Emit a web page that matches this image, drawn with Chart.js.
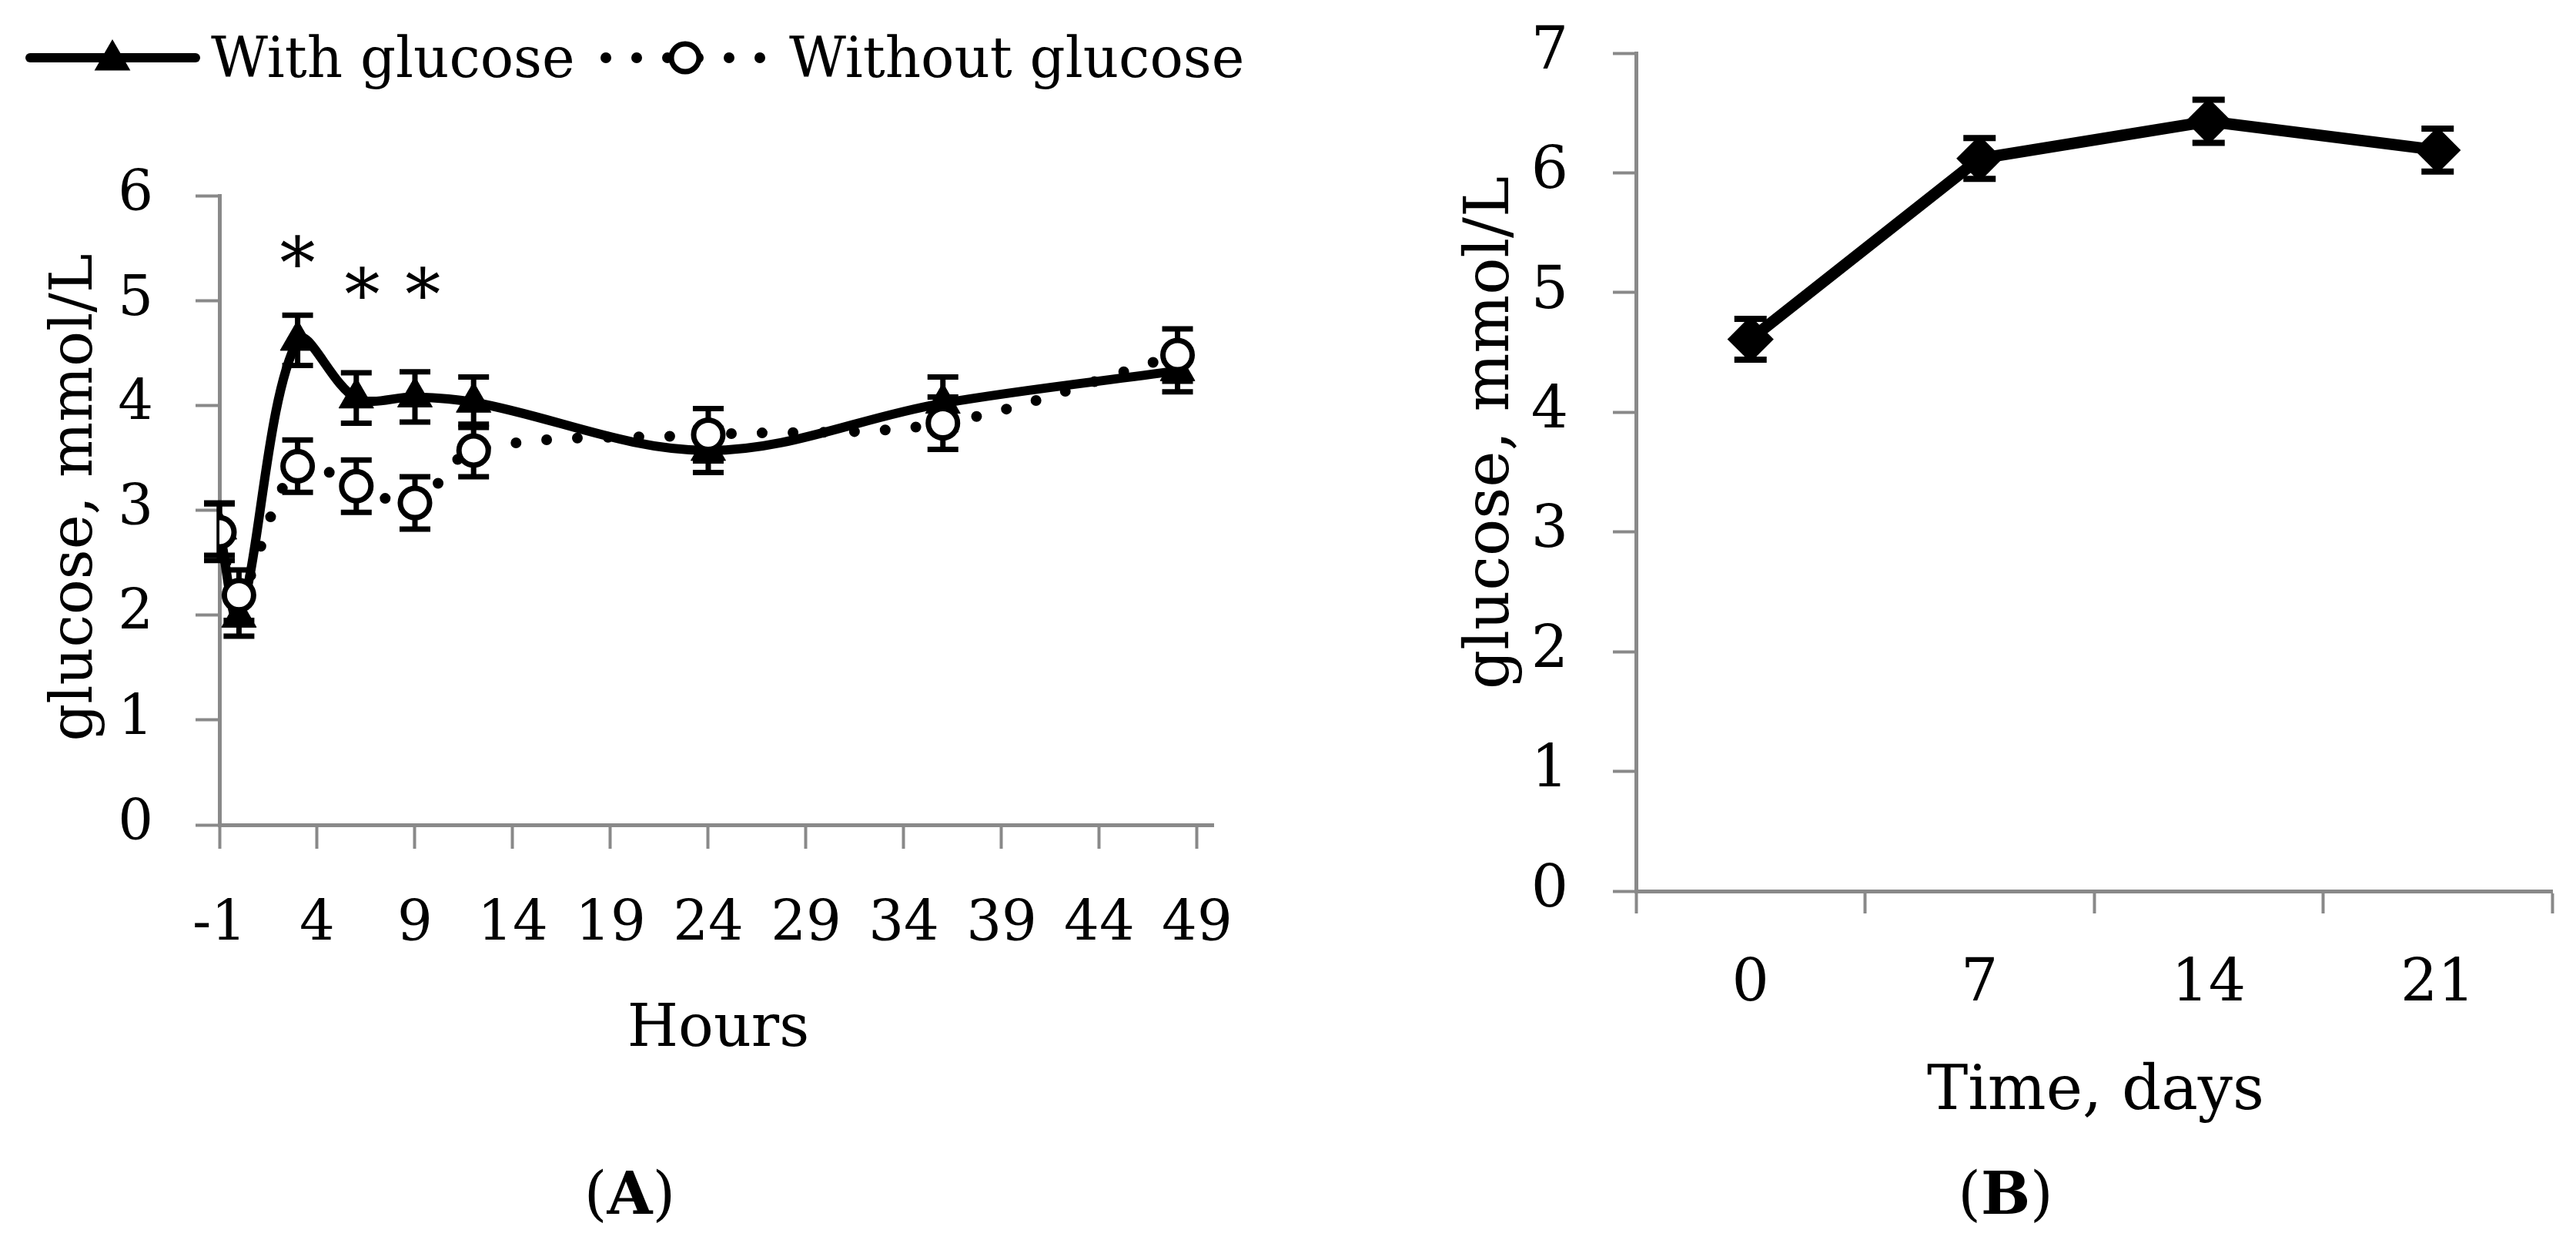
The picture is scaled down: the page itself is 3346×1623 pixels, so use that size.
<!DOCTYPE html>
<html>
<head>
<meta charset="utf-8">
<script src="https://cdn.jsdelivr.net/npm/chart.js@4.4.1/dist/chart.umd.min.js"></script>
<style>
  html, body { margin: 0; padding: 0; background: #fff; }
  #wrap { position: relative; width: 3346px; height: 1623px; overflow: hidden; }
  #chartA { position: absolute; left: 0; top: 0; }
  #chartB { position: absolute; left: 1700px; top: 0; }
</style>
</head>
<body>
<div id="wrap">
  <canvas id="chartA" width="1700" height="1623"></canvas>
  <canvas id="chartB" width="1646" height="1623"></canvas>
</div>
<script>
/* ------------------------------------------------------------
   DATA - panel A (hours)
   ------------------------------------------------------------ */
const hours = [-1, 0, 3, 6, 9, 12, 24, 36, 48];
const withGlucose = [2.82, 1.98, 4.62, 4.07, 4.08, 4.03, 3.57, 4.02, 4.33];
const withErr = [0.25, 0.18, 0.24, 0.24, 0.24, 0.24, 0.21, 0.25, 0.20];
const withoutGlucose = [2.79, 2.19, 3.42, 3.23, 3.07, 3.57, 3.72, 3.83, 4.48];
const withoutErr = [0.27, 0.24, 0.25, 0.25, 0.25, 0.25, 0.25, 0.25, 0.25];
const hourTicks = [-1, 4, 9, 14, 19, 24, 29, 34, 39, 44, 49];
// significance marks (*)
const starHours = [3, 6.3, 9.4];
const starLevels = [5.5, 5.2, 5.2];

/* ------------------------------------------------------------
   DATA - panel B (days)
   ------------------------------------------------------------ */
const days = ['0', '7', '14', '21'];
const glucoseB = [4.61, 6.12, 6.43, 6.19];
const errB = [0.17, 0.17, 0.18, 0.18];

const GRAY = '#898989';
const FONT = '"DejaVu Serif", serif';
Chart.defaults.font.family = FONT;
Chart.defaults.color = '#000';

// error bars drawn under the markers, through the y scale
const errorBars = {
  id: 'errorBars',
  beforeDatasetsDraw(chart) {
    const ctx = chart.ctx;
    const yScale = chart.scales.y;
    chart.data.datasets.forEach((ds, i) => {
      if (!ds.errors) return;
      const meta = chart.getDatasetMeta(i);
      ctx.save();
      ctx.strokeStyle = '#000';
      ctx.lineWidth = ds.errWidth;
      meta.data.forEach((pt, j) => {
        const raw = ds.data[j];
        const v = (raw && raw.y !== undefined) ? raw.y : raw;
        const top = yScale.getPixelForValue(v + ds.errors[j]);
        const bot = yScale.getPixelForValue(v - ds.errors[j]);
        ctx.beginPath();
        ctx.moveTo(pt.x, top); ctx.lineTo(pt.x, bot);
        ctx.moveTo(pt.x - ds.capHalf, top); ctx.lineTo(pt.x + ds.capHalf, top);
        ctx.moveTo(pt.x - ds.capHalf, bot); ctx.lineTo(pt.x + ds.capHalf, bot);
        ctx.stroke();
      });
      ctx.restore();
    });
  }
};

function rotatedTitle(ctx, text, x, y, size) {
  ctx.save();
  ctx.translate(x, y);
  ctx.rotate(-Math.PI / 2);
  ctx.font = `${size}px ${FONT}`;
  ctx.textAlign = 'center';
  ctx.textBaseline = 'alphabetic';
  ctx.fillText(text, 0, 0);
  ctx.restore();
}

function panelLetter(ctx, letter, cx, baseline, size) {
  ctx.save();
  ctx.textBaseline = 'alphabetic';
  ctx.textAlign = 'left';
  const reg = `${size}px ${FONT}`, bold = `bold ${size}px ${FONT}`;
  ctx.font = reg; const wp = ctx.measureText('(').width;
  ctx.font = bold; const wl = ctx.measureText(letter).width;
  let x = cx - (2 * wp + wl) / 2;
  ctx.font = reg; ctx.fillText('(', x, baseline); x += wp;
  ctx.font = bold; ctx.fillText(letter, x, baseline); x += wl;
  ctx.font = reg; ctx.fillText(')', x, baseline);
  ctx.restore();
}

function triangleMark(ctx, x, y, r) {
  ctx.beginPath();
  ctx.moveTo(x, y - r);
  ctx.lineTo(x + r * 0.866, y + r * 0.5);
  ctx.lineTo(x - r * 0.866, y + r * 0.5);
  ctx.closePath();
  ctx.fill();
}

// legend, titles and stars for panel A
const decorA = {
  id: 'decorA',
  afterDraw(chart) {
    const ctx = chart.ctx;
    const xs = chart.scales.x, ys = chart.scales.y;
    ctx.save();
    ctx.fillStyle = '#000';
    ctx.strokeStyle = '#000';

    // legend: with glucose
    ctx.lineWidth = 12; ctx.lineCap = 'round';
    ctx.beginPath(); ctx.moveTo(39, 75); ctx.lineTo(254, 75); ctx.stroke();
    triangleMark(ctx, 146, 78, 27);
    ctx.font = `72px ${FONT}`;
    ctx.textBaseline = 'alphabetic'; ctx.textAlign = 'left';
    ctx.fillText('With glucose', 274, 100);

    // legend: without glucose
    ctx.lineWidth = 14;
    ctx.setLineDash([0, 40]);
    ctx.beginPath(); ctx.moveTo(787, 75); ctx.lineTo(990, 75); ctx.stroke();
    ctx.setLineDash([]);
    ctx.beginPath(); ctx.arc(890, 75, 18, 0, Math.PI * 2);
    ctx.fillStyle = '#fff'; ctx.fill();
    ctx.lineWidth = 7; ctx.stroke();
    ctx.fillStyle = '#000';
    ctx.fillText('Without glucose', 1025, 100);

    // stars
    const starSize = 92;
    ctx.font = `${starSize}px ${FONT}`;
    ctx.textAlign = 'center';
    starHours.forEach((h, i) => {
      ctx.fillText('*', xs.getPixelForValue(h), ys.getPixelForValue(starLevels[i]) + starSize * 0.55);
    });

    // axis titles
    rotatedTitle(ctx, 'glucose, mmol/L', 119, 646, 76);
    ctx.font = `76px ${FONT}`;
    ctx.textAlign = 'center';
    ctx.fillText('Hours', 933, 1358);
    panelLetter(ctx, 'A', 818, 1576, 76);
    ctx.restore();
  }
};

const decorB = {
  id: 'decorB',
  afterDraw(chart) {
    const ctx = chart.ctx;
    ctx.save();
    ctx.fillStyle = '#000';
    rotatedTitle(ctx, 'glucose, mmol/L', 259, 562, 80);
    ctx.font = `80px ${FONT}`;
    ctx.textAlign = 'center';
    ctx.textBaseline = 'alphabetic';
    ctx.fillText('Time, days', 1022, 1440);
    panelLetter(ctx, 'B', 905, 1576, 76);
    ctx.restore();
  }
};

const axisGrid = { drawOnChartArea: false, tickLength: 31, tickWidth: 4, tickColor: GRAY, color: GRAY };

/* ------------------------------------------------------------
   PANEL A
   ------------------------------------------------------------ */
new Chart(document.getElementById('chartA'), {
  type: 'line',
  data: {
    datasets: [
      {
        label: 'Without glucose',
        data: hours.map((h, i) => ({ x: h, y: withoutGlucose[i] })),
        order: 0,
        borderColor: '#000',
        borderWidth: 14,
        borderDash: [0, 40],
        borderCapStyle: 'round',
        tension: 0.35,
        pointStyle: 'circle',
        pointRadius: 19,
        pointBorderWidth: 7,
        pointBackgroundColor: '#fff',
        pointBorderColor: '#000',
        errors: withoutErr, capHalf: 20, errWidth: 7
      },
      {
        label: 'With glucose',
        data: hours.map((h, i) => ({ x: h, y: withGlucose[i] })),
        order: 1,
        borderColor: '#000',
        borderWidth: 12,
        tension: 0.35,
        pointStyle: 'triangle',
        pointRadius: 26,
        pointBorderWidth: 1,
        pointBackgroundColor: '#000',
        pointBorderColor: '#000',
        errors: withErr, capHalf: 20, errWidth: 7
      }
    ]
  },
  options: {
    responsive: false,
    animation: false,
    devicePixelRatio: 1,
    layout: { padding: { left: 0, top: 254, right: 124, bottom: 0 } },
    plugins: { legend: { display: false }, tooltip: { enabled: false } },
    scales: {
      x: {
        type: 'linear', min: -1, max: 49.83,
        afterBuildTicks: s => { s.ticks = hourTicks.map(v => ({ value: v })); },
        afterFit: s => { s.height = 552; s.paddingLeft = 0; s.paddingRight = 0; },
        border: { color: GRAY, width: 5 },
        grid: axisGrid,
        ticks: { font: { size: 72 }, padding: 57, maxRotation: 0, autoSkip: false }
      },
      y: {
        min: 0, max: 6,
        afterFit: s => { s.width = 285; s.paddingTop = 0; s.paddingBottom = 0; },
        border: { color: GRAY, width: 5 },
        grid: axisGrid,
        ticks: { stepSize: 1, font: { size: 72 }, padding: 55 }
      }
    }
  },
  plugins: [errorBars, decorA]
});

/* ------------------------------------------------------------
   PANEL B
   ------------------------------------------------------------ */
new Chart(document.getElementById('chartB'), {
  type: 'line',
  data: {
    labels: days,
    datasets: [{
      label: 'glucose',
      data: glucoseB,
      borderColor: '#000',
      borderWidth: 15,
      tension: 0,
      pointStyle: 'rectRot',
      pointRadius: 28,
      pointBorderWidth: 3,
      pointBackgroundColor: '#000',
      pointBorderColor: '#000',
      errors: errB, capHalf: 21, errWidth: 8
    }]
  },
  options: {
    responsive: false,
    animation: false,
    devicePixelRatio: 1,
    layout: { padding: { left: 0, top: 69, right: 29, bottom: 0 } },
    plugins: { legend: { display: false }, tooltip: { enabled: false } },
    scales: {
      x: {
        type: 'category', offset: true,
        afterFit: s => { s.height = 466; s.paddingLeft = 0; s.paddingRight = 0; },
        border: { color: GRAY, width: 5 },
        grid: Object.assign({}, axisGrid, { offset: true, tickLength: 29 }),
        ticks: { font: { size: 76 }, padding: 48, maxRotation: 0 }
      },
      y: {
        min: 0, max: 7,
        afterFit: s => { s.width = 425; s.paddingTop = 0; s.paddingBottom = 0; },
        border: { color: GRAY, width: 5 },
        grid: Object.assign({}, axisGrid, { tickLength: 30 }),
        ticks: { stepSize: 1, font: { size: 76 }, padding: 58 }
      }
    }
  },
  plugins: [errorBars, decorB]
});
</script>
</body>
</html>
